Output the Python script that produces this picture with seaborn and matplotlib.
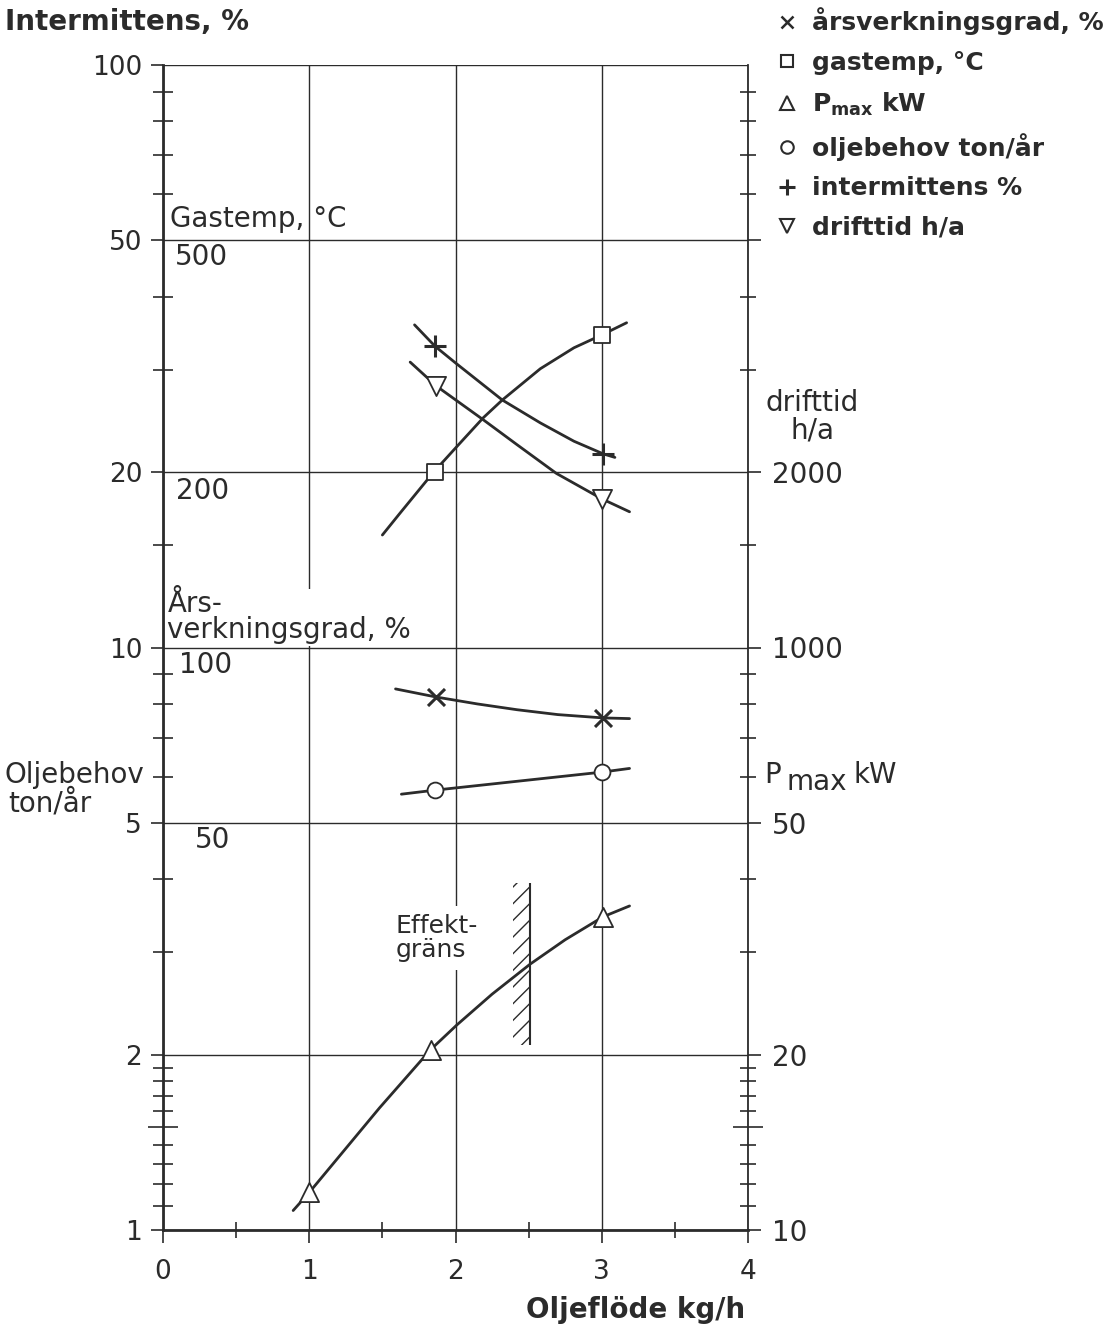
import numpy as np
import pandas as pd
import matplotlib
matplotlib.use("Agg")
import matplotlib.pyplot as plt
import matplotlib.transforms as mtransforms
import seaborn as sns
from matplotlib.ticker import FixedLocator, FixedFormatter, NullFormatter
from matplotlib.lines import Line2D

# ------------------------------------------------------------------ data
flow_major = [0, 1, 2, 3, 4]
flow_minor = [0.5, 1.5, 2.5, 3.5]
left_ticks = [1, 2, 5, 10, 20, 50, 100]
left_labels = ["1", "2", "5", "10", "20", "50", "100"]
right_ticks = [1, 2, 5, 10, 20, 50]
right_labels = ["10", "20", "50", "1000", "2000", ""]
minor_y = [1.1, 1.2, 1.3, 1.4, 1.5, 1.6, 1.7, 1.8, 1.9, 3, 4, 6, 7, 8, 9,
           15, 30, 40, 60, 70, 80, 90]

# gastemp, °C  (drawn on the 1/10 scale)
gas_x = [1.50, 1.62, 1.85, 2.00, 2.19, 2.32, 2.58, 2.81, 3.00, 3.17]
gas_y = [156, 170, 200, 220, 248, 266, 301, 327, 344, 361]
gas_mx = [1.86, 3.00]
gas_my = [200, 344]
# intermittens, %
int_x = [1.72, 1.86, 2.00, 2.32, 2.58, 2.81, 3.01, 3.09]
int_y = [35.8, 32.9, 30.8, 26.6, 24.3, 22.6, 21.5, 21.2]
int_mx = [1.86, 3.01]
int_my = [32.9, 21.5]
# drifttid, h/a  (drawn on the 1/100 scale)
drift_x = [1.69, 1.87, 2.19, 2.42, 2.69, 3.00, 3.19]
drift_y = [3090, 2810, 2460, 2230, 1990, 1800, 1710]
drift_mx = [1.87, 3.00]
drift_my = [2810, 1800]
# årsverkningsgrad, %  (drawn on the 1/10 scale)
eff_x = [1.59, 1.87, 2.15, 2.42, 2.70, 3.01, 3.19]
eff_y = [84.9, 82.2, 80.0, 78.2, 76.7, 75.7, 75.5]
eff_mx = [1.87, 3.01]
eff_my = [82.2, 75.7]
# oljebehov, ton/år
oil_x = [1.63, 1.86, 3.00, 3.19]
oil_y = [5.60, 5.69, 6.11, 6.20]
oil_mx = [1.86, 3.00]
oil_my = [5.69, 6.11]
# Pmax, kW  (drawn on the 1/10 scale)
pmax_x = [0.89, 1.00, 1.48, 1.83, 2.01, 2.25, 2.51, 2.75, 3.01, 3.19]
pmax_y = [10.8, 11.6, 16.2, 20.4, 22.5, 25.4, 28.6, 31.5, 34.5, 36.0]
pmax_mx = [1.00, 1.83, 3.01]
pmax_my = [11.6, 20.4, 34.5]
# effektgräns (kg/h, kW)
limit_x = [2.39, 2.51]
limit_kw = [20.8, 39.4]

INK = "#2b2b2b"

# ------------------------------------------------------------------ style
sns.set_theme(style="ticks")
plt.rcParams["font.family"] = ["DejaVu Sans"]
plt.rcParams["mathtext.fontset"] = "dejavusans"
plt.rcParams["hatch.linewidth"] = 1.0
plt.rcParams["hatch.color"] = INK

fig = plt.figure(figsize=(11.16, 13.32), dpi=100)
fig.patch.set_facecolor("white")
ax = fig.add_axes([163 / 1116, 1 - 1230 / 1332, 585 / 1116, 1165 / 1332])
ax.set_facecolor("white")

ax.set_yscale("log")
ax.set_xlim(0, 4)
ax.set_ylim(1, 100)

ax.xaxis.set_major_locator(FixedLocator(flow_major))
ax.xaxis.set_minor_locator(FixedLocator(flow_minor))
ax.yaxis.set_major_locator(FixedLocator(left_ticks))
ax.yaxis.set_major_formatter(FixedFormatter(left_labels))
ax.yaxis.set_minor_locator(FixedLocator(minor_y))
ax.yaxis.set_minor_formatter(NullFormatter())
ax.grid(True, which="major", color=INK, lw=1.0, zorder=0)
ax.set_axisbelow(True)

for s in ["top", "right"]:
    ax.spines[s].set_visible(False)
for s in ["left", "bottom"]:
    ax.spines[s].set_linewidth(2.0)
    ax.spines[s].set_color(INK)

ax.tick_params(axis="both", which="major", direction="out", length=9,
               width=1.2, color=INK, labelsize=19, labelcolor=INK)
ax.tick_params(axis="y", which="major", pad=6)
ax.tick_params(axis="x", which="major", pad=12)
ax.tick_params(axis="y", which="minor", direction="inout", length=14,
               width=1.2, color=INK)
ax.tick_params(axis="x", which="minor", direction="inout", length=11,
               width=1.2, color=INK)

# right axis
ax2 = ax.twinx()
ax2.set_yscale("log")
ax2.set_ylim(1, 100)
ax2.yaxis.set_major_locator(FixedLocator(right_ticks))
ax2.yaxis.set_major_formatter(FixedFormatter(right_labels))
ax2.yaxis.set_minor_locator(FixedLocator(minor_y))
ax2.yaxis.set_minor_formatter(NullFormatter())
for s in ["top", "left", "bottom"]:
    ax2.spines[s].set_visible(False)
ax2.spines["right"].set_linewidth(1.3)
ax2.spines["right"].set_color(INK)
ax2.tick_params(axis="y", which="major", direction="out", length=9,
                width=1.2, color=INK, labelsize=20, labelcolor=INK, pad=8)
ax2.tick_params(axis="y", which="minor", direction="inout", length=12,
                width=1.2, color=INK)

# longer tick at 1.5 on both vertical axes
for a in (ax, ax2):
    locs = list(a.yaxis.get_minorticklocs())
    ticks = a.yaxis.get_minor_ticks(len(locs))
    for loc, t in zip(locs, ticks):
        if abs(loc - 1.5) < 1e-6:
            t.tick1line.set_markersize(22)
            t.tick2line.set_markersize(22)

# ------------------------------------------------------------------ curves
curves = [
    (gas_x, np.array(gas_y) / 10),
    (int_x, np.array(int_y)),
    (drift_x, np.array(drift_y) / 100),
    (eff_x, np.array(eff_y) / 10),
    (oil_x, np.array(oil_y)),
    (pmax_x, np.array(pmax_y) / 10),
]
for cx, cy in curves:
    df = pd.DataFrame({"x": cx, "y": cy})
    sns.lineplot(data=df, x="x", y="y", ax=ax, color=INK, lw=2.0,
                 sort=False, estimator=None, zorder=3)

marks = [
    (gas_mx, np.array(gas_my) / 10, "s", 130, True),
    (int_mx, np.array(int_my), "+", 260, False),
    (drift_mx, np.array(drift_my) / 100, "v", 190, True),
    (eff_mx, np.array(eff_my) / 10, "x", 150, False),
    (oil_mx, np.array(oil_my), "o", 130, True),
    (pmax_mx, np.array(pmax_my) / 10, "^", 190, True),
]
for mx, my, m, s, hollow in marks:
    df = pd.DataFrame({"x": mx, "y": my})
    if hollow:
        sns.scatterplot(data=df, x="x", y="y", ax=ax, marker=m, s=s,
                        facecolor="white", edgecolor=INK, linewidth=1.3,
                        zorder=4)
    else:
        sns.scatterplot(data=df, x="x", y="y", ax=ax, marker=m, s=s,
                        color=INK, linewidth=2.2, zorder=4)
ax.set_xlabel("")
ax.set_ylabel("")

# effektgräns hatch
ax.fill_betweenx(np.array(limit_kw) / 10, limit_x[0], limit_x[1],
                 facecolor="none", edgecolor=INK, hatch="//",
                 linewidth=0, zorder=2)
ax.vlines(limit_x[1], limit_kw[0] / 10, limit_kw[1] / 10, color=INK,
          lw=1.5, zorder=2)

# ------------------------------------------------------------------ text
txt = dict(color=INK, fontsize=20)
ax.text(0.05, 54.5, "Gastemp, °C", va="center", ha="left", **txt)
ax.text(0.08, 46.8, "500", va="center", ha="left", **txt)
ax.text(0.09, 18.6, "200", va="center", ha="left", **txt)
ax.text(0.03, 10.12, "Års-\nverkningsgrad, %", va="bottom", ha="left",
        linespacing=0.92, zorder=5,
        bbox=dict(facecolor="white", edgecolor="none", pad=1), **txt)
ax.text(0.11, 9.33, "100", va="center", ha="left", **txt)
ax.text(0.22, 4.67, "50", va="center", ha="left", **txt)
ax.text(1.59, 3.17, "Effekt-\ngräns", va="center", ha="left",
        linespacing=1.0, color=INK, fontsize=18, zorder=5,
        bbox=dict(facecolor="white", edgecolor="none", pad=6))

ax.text(4.44, 24.9, "drifttid\nh/a", va="center", ha="center",
        linespacing=1.0, clip_on=False, **txt)

# "P max kW" label on the right axis, "max" set lower like the original
ax.text(4.11, 6.04, "P", va="center", ha="left", clip_on=False, **txt)
off_max = mtransforms.offset_copy(ax.transData, fig=fig, x=22, y=-7,
                                  units="dots")
ax.text(4.11, 6.04, "max", va="center", ha="left", clip_on=False,
        transform=off_max, **txt)
off_kw = mtransforms.offset_copy(ax.transData, fig=fig, x=89, y=0,
                                 units="dots")
ax.text(4.11, 6.04, "kW", va="center", ha="left", clip_on=False,
        transform=off_kw, **txt)

fig.text(5 / 1116, 1 - 22 / 1332, "Intermittens, %", ha="left",
         va="center", fontsize=20, fontweight="bold", color=INK)
fig.text(5 / 1116, 1 - 775 / 1332, "Oljebehov", ha="left",
         va="center", fontsize=20, color=INK)
fig.text(8 / 1116, 1 - 803 / 1332, "ton/år", ha="left",
         va="center", fontsize=20, color=INK)
fig.text(636 / 1116, 1 - 1310 / 1332, "Oljeflöde kg/h", ha="center",
         va="center", fontsize=20, fontweight="bold", color=INK)

# legend
handles = [
    Line2D([], [], ls="", marker="x", ms=8, mew=1.8, color=INK),
    Line2D([], [], ls="", marker="s", ms=9, mew=1.5, color=INK, mfc="white"),
    Line2D([], [], ls="", marker="^", ms=10, mew=1.5, color=INK, mfc="white"),
    Line2D([], [], ls="", marker="o", ms=9, mew=1.5, color=INK, mfc="white"),
    Line2D([], [], ls="", marker="+", ms=11, mew=2.2, color=INK),
    Line2D([], [], ls="", marker="v", ms=10, mew=1.5, color=INK, mfc="white"),
]
labels = ["årsverkningsgrad, %", "gastemp, °C", r"P$_\mathbf{max}$ kW",
          "oljebehov ton/år", "intermittens %", "drifttid h/a"]
leg = fig.legend(handles, labels, loc="upper left",
                 bbox_to_anchor=(758 / 1116, 1 + 10 / 1332), frameon=False,
                 prop=dict(size=18, weight="bold"), handlelength=0.9,
                 handletextpad=0.55, labelspacing=0.62, borderpad=0.2)
for t in leg.get_texts():
    t.set_color(INK)

fig.savefig("out.png", dpi=100, facecolor="white")
